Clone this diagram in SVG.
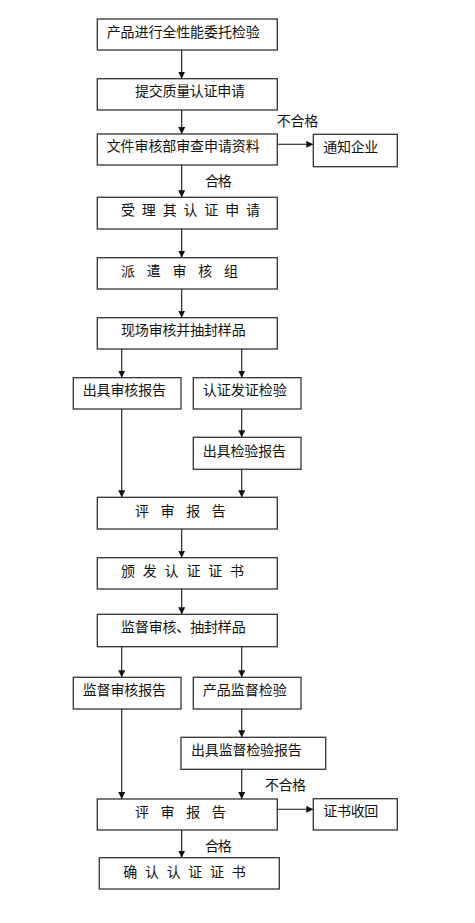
<svg xmlns="http://www.w3.org/2000/svg" width="475" height="923" viewBox="0 0 475 923">
<defs>
<style>
.box rect{fill:#fff;stroke:#333;stroke-width:1.3}
text{font-family:"Noto Sans CJK SC","Liberation Sans",sans-serif;font-size:14px;fill:#111;lengthAdjust:spacing}
.c line{stroke:#111;stroke-width:1.1;marker-end:url(#ah)}
</style>
<marker id="ah" viewBox="0 0 8 8" refX="8" refY="4" markerWidth="7" markerHeight="7" markerUnits="userSpaceOnUse" orient="auto">
<path d="M0,0 L8,4 L0,8 Z" fill="#111"/>
</marker>
</defs>
<rect width="475" height="923" fill="#fff"/>
<g class="c" id="connectors">
<line x1="181.7" y1="50" x2="181.7" y2="78.7"/>
<line x1="181.7" y1="110" x2="181.7" y2="134"/>
<line x1="277.3" y1="144.3" x2="313.3" y2="144.3"/>
<line x1="181.7" y1="165" x2="181.7" y2="197.3"/>
<line x1="181.7" y1="229" x2="181.7" y2="257.7"/>
<line x1="181.7" y1="289" x2="181.7" y2="317.7"/>
<line x1="121.7" y1="349" x2="121.7" y2="377.7"/>
<line x1="241.7" y1="349" x2="241.7" y2="377.7"/>
<line x1="241.7" y1="409" x2="241.7" y2="437.3"/>
<line x1="121.7" y1="409" x2="121.7" y2="497.3"/>
<line x1="241.7" y1="469.3" x2="241.7" y2="497.3"/>
<line x1="181.7" y1="529" x2="181.7" y2="557.7"/>
<line x1="181.7" y1="589" x2="181.7" y2="614.3"/>
<line x1="121.7" y1="646.7" x2="121.7" y2="677.3"/>
<line x1="241.7" y1="646.7" x2="241.7" y2="677.3"/>
<line x1="241.7" y1="709" x2="241.7" y2="737.3"/>
<line x1="121.7" y1="709" x2="121.7" y2="799"/>
<line x1="241.7" y1="769.3" x2="241.7" y2="799"/>
<line x1="181.7" y1="830" x2="181.7" y2="857.7"/>
<line x1="277.3" y1="809.3" x2="313.3" y2="809.3"/>
<text x="276.7" y="125.5" textLength="41.6">不合格</text>
<text x="205" y="186" textLength="26.7">合格</text>
<text x="265" y="790" textLength="41">不合格</text>
<text x="205" y="851" textLength="26.7">合格</text>
</g>
<g class="box" id="n1"><rect x="97.3" y="19" width="180" height="31"/><text x="106.7" y="37" textLength="153">产品进行全性能委托检验</text></g>
<g class="box" id="n2"><rect x="97.3" y="78.7" width="180" height="31.3"/><text x="135" y="96" textLength="110">提交质量认证申请</text></g>
<g class="box" id="n3"><rect x="97.3" y="134" width="180" height="31"/><text x="106.7" y="151" textLength="153">文件审核部审查申请资料</text></g>
<g class="box" id="n4"><rect x="313.3" y="134.3" width="84" height="32.4"/><text x="323.3" y="151.5" textLength="55">通知企业</text></g>
<g class="box" id="n5"><rect x="97.3" y="197.3" width="180" height="31.7"/><text x="121" y="215" textLength="139">受 理 其 认 证 申 请</text></g>
<g class="box" id="n6"><rect x="97.3" y="257.7" width="180" height="31.3"/><text x="121" y="275.5" textLength="117">派 遣 审 核 组</text></g>
<g class="box" id="n7"><rect x="97.3" y="317.7" width="180" height="31.3"/><text x="121" y="335" textLength="124.7">现场审核并抽封样品</text></g>
<g class="box" id="n8"><rect x="73.3" y="377.7" width="107.7" height="31.3"/><text x="82.7" y="395" textLength="83.3">出具审核报告</text></g>
<g class="box" id="n9"><rect x="193.3" y="377.7" width="107.7" height="31.3"/><text x="202.7" y="395" textLength="84">认证发证检验</text></g>
<g class="box" id="n10"><rect x="193.3" y="437.3" width="107.7" height="32"/><text x="202.7" y="455.5" textLength="83.3">出具检验报告</text></g>
<g class="box" id="n11"><rect x="97.3" y="497.3" width="180" height="31.7"/><text x="135" y="516" textLength="90.7">评 审 报 告</text></g>
<g class="box" id="n12"><rect x="97.3" y="557.7" width="180" height="31.3"/><text x="121" y="576" textLength="123">颁 发 认 证 证 书</text></g>
<g class="box" id="n13"><rect x="97.3" y="614.3" width="180" height="32.4"/><text x="121" y="632" textLength="124.7">监督审核、抽封样品</text></g>
<g class="box" id="n14"><rect x="73.3" y="677.3" width="107.7" height="31.7"/><text x="82.7" y="695" textLength="83.3">监督审核报告</text></g>
<g class="box" id="n15"><rect x="193.3" y="677.3" width="107.7" height="31.7"/><text x="202.7" y="695" textLength="84">产品监督检验</text></g>
<g class="box" id="n16"><rect x="181" y="737.3" width="144.7" height="32"/><text x="191" y="755" textLength="110.7">出具监督检验报告</text></g>
<g class="box" id="n17"><rect x="97.3" y="799" width="180" height="31"/><text x="135" y="816.5" textLength="90.7">评 审 报 告</text></g>
<g class="box" id="n18"><rect x="313.3" y="798.7" width="84" height="31.3"/><text x="323.3" y="816" textLength="55">证书收回</text></g>
<g class="box" id="n19"><rect x="99.3" y="857.7" width="180" height="31.3"/><text x="123.3" y="876.5" textLength="122.4">确 认 认 证 证 书</text></g>
</svg>
